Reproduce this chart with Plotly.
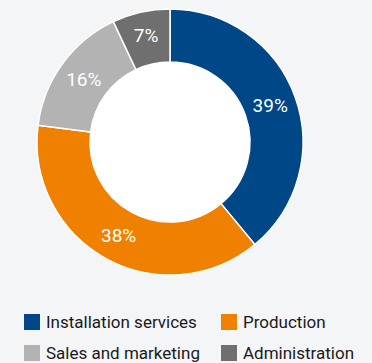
import plotly.graph_objects as go

# ── Data ─────────────────────────────────────────────────────────────────────
labels = ["Installation services", "Production", "Sales and marketing", "Administration"]
shares = [39, 38, 16, 7]
colors = ["#004788", "#f08000", "#b3b3b3", "#6f6f6f"]

W, H = 372, 363
BG = "#f4f5f7"


def px(x):
    return x / W


def py(y):
    return 1 - y / H


# ring geometry (pixels)
cx, cy, r_out, r_in = 170, 142, 133, 80

fig = go.Figure()
fig.add_trace(go.Pie(
    labels=labels, values=shares, sort=False, direction="clockwise", rotation=0,
    hole=r_in / r_out,
    marker=dict(colors=colors, line=dict(color="white", width=1.5)),
    texttemplate="%{value}%", textposition="inside", insidetextorientation="horizontal",
    textfont=dict(color="white", size=19, family="Roboto"),
    domain=dict(x=[px(cx - r_out), px(cx + r_out)], y=[py(cy + r_out), py(cy - r_out)]),
    showlegend=False, hoverinfo="label+percent",
))

# white hole behind the ring
fig.add_shape(type="circle", xref="paper", yref="paper", layer="below",
              x0=px(cx - r_in), x1=px(cx + r_in), y0=py(cy + r_in), y1=py(cy - r_in),
              fillcolor="white", line_width=0)

# legend, two columns
for i, (lab, col) in enumerate(zip(labels, colors)):
    x0 = 24 + (i % 2) * 197
    yc = 322 + (i // 2) * 31
    fig.add_shape(type="rect", xref="paper", yref="paper",
                  x0=px(x0), x1=px(x0 + 16), y0=py(yc + 8), y1=py(yc - 8),
                  fillcolor=col, line_width=0)
    fig.add_annotation(text=lab, xref="paper", yref="paper", x=px(x0 + 20), y=py(yc),
                       xanchor="left", yanchor="middle", showarrow=False,
                       font=dict(size=17, color="#1a1a1a", family="Roboto"))

fig.update_layout(
    width=W, height=H, autosize=False,
    paper_bgcolor=BG, plot_bgcolor=BG,
    margin=dict(l=0, r=0, t=0, b=0),
)

# drop the browser's default body margin so the figure fills the window
fig.write_html("out.html", config=dict(displayModeBar=False), post_script=(
    "document.body.style.margin='0';"
    "document.body.style.background='%s';" % BG
))
